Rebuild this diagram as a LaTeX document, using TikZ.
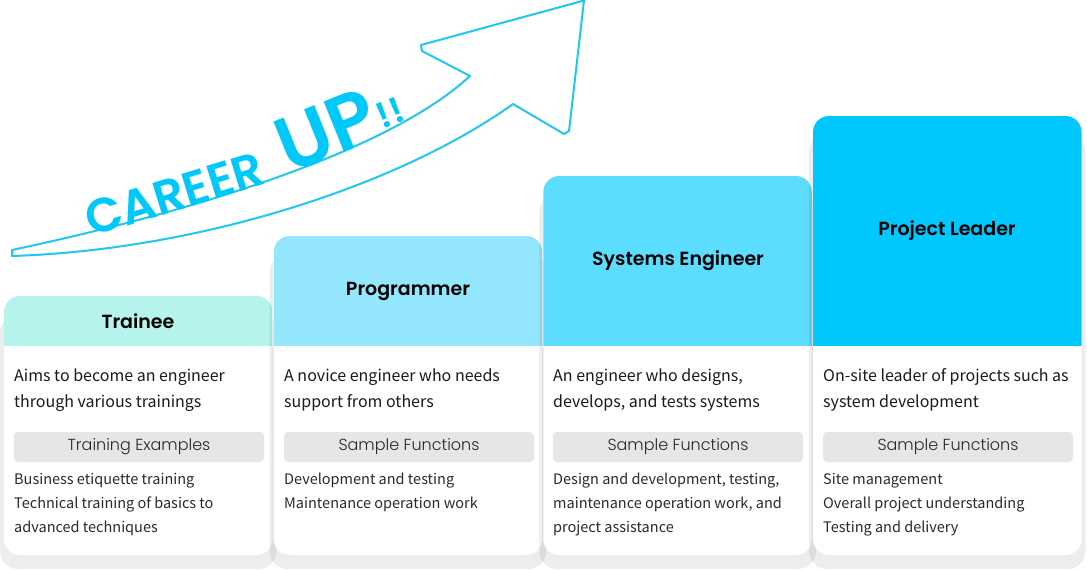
\documentclass[tikz,border=0pt]{standalone}
\usepackage{fontspec}
\setmainfont{Noto Sans CJK JP}
\newfontfamily\popfont{Poppins}
\newfontfamily\popsemi{Poppins}[UprightFont={* SemiBold}]
\newfontfamily\poplight{Poppins}[UprightFont={* Light}]
\definecolor{hdA}{HTML}{B5F3EC}
\definecolor{hdB}{HTML}{94E6FC}
\definecolor{hdC}{HTML}{5CDCFE}
\definecolor{hdD}{HTML}{00C8FC}
\definecolor{arrowc}{HTML}{22C6F2}
\definecolor{careerc}{HTML}{00C8F8}
\definecolor{labelbg}{HTML}{E6E6E6}
\definecolor{txt}{HTML}{1A1A1A}
\definecolor{itemc}{HTML}{2A2A2A}
\newcommand\cardshadow[2]{\fill[black, fill opacity=0.07, rounded corners=18pt] (#1-4,#2+18) rectangle (#1+272.5,569);}
\newcommand\cardshape[3]{%
  \fill[white, rounded corners=16pt] (#1,#2) rectangle (#1+268.5,555);
  \begin{scope}
    \clip[rounded corners=16pt] (#1,#2) rectangle (#1+268.5,555);
    \fill[#3] (#1,#2) rectangle (#1+268.5,346);
  \end{scope}}
\begin{document}
\begin{tikzpicture}[x=1pt,y=-1pt,
  title/.style={font=\popsemi\fontsize{19}{22}\selectfont, text=black, inner sep=0},
  desc/.style={font=\fontsize{16}{20}\selectfont, text=txt, anchor=base west, inner sep=0},
  item/.style={font=\fontsize{14.5}{18}\selectfont, text=itemc, anchor=base west, inner sep=0},
  lab/.style={fill=labelbg, rounded corners=4pt, minimum width=250pt, minimum height=30pt, inner sep=0, font=\poplight\fontsize{16}{18}\selectfont, text=black!85},
  career/.style={text=careerc, inner sep=0, anchor=base west}
]
\useasboundingbox (0,0) rectangle (1087,570);
\fill[white] (0,0) rectangle (1087,570);

% arrow
\draw[arrowc, line width=2pt, fill=white, line join=round]
  (12,250) .. controls (200,210) and (390,150) .. (470,76)
  -- (422,51) -- (421,45) -- (584,0.5) -- (569,131) -- (564,134) -- (513,104)
  .. controls (400,185) and (200,250) .. (12,256) -- cycle;
\node[career, font=\popsemi\fontsize{48}{50}\selectfont, rotate=17] (career) at (91,237) {CAREER};
\node[career, font=\popsemi\fontsize{78}{80}\selectfont, rotate=22] (up) at (289,175) {UP\kern2pt\raisebox{7pt}{\fontsize{36}{38}\selectfont !\kern1.5pt!}};

% cards with their shadows
\cardshadow{4}{296}
\cardshape{4}{296}{hdA}
\cardshadow{273.7}{236}
\cardshape{273.7}{236}{hdB}
\cardshadow{543.3}{176}
\cardshape{543.3}{176}{hdC}
\cardshadow{813}{116}
\cardshape{813}{116}{hdD}

% titles
\node[title] (t1) at (138,321) {Trainee};
\node[title] (t2) at (408,291) {Programmer};
\node[title] (t3) at (678,261) {Systems Engineer};
\node[title] (t4) at (947,231) {Project Leader};

% descriptions
\node[desc] (d1a) at (14,381) {Aims to become an engineer};
\node[desc] (d1b) at (14,407) {through various trainings};
\node[desc] (d2a) at (284,381) {A novice engineer who needs};
\node[desc] (d2b) at (284,407) {support from others};
\node[desc] (d3a) at (553,381) {An engineer who designs,};
\node[desc] (d3b) at (553,407) {develops, and tests systems};
\node[desc] (d4a) at (823,381) {On-site leader of projects such as};
\node[desc] (d4b) at (823,407) {system development};

% labels
\node[lab] (l1) at (139,447) {Training Examples};
\node[lab] (l2) at (409,447) {Sample Functions};
\node[lab] (l3) at (678,447) {Sample Functions};
\node[lab] (l4) at (948,447) {Sample Functions};

% items
\node[item] (i1a) at (14,484) {Business etiquette training};
\node[item] (i1b) at (14,508) {Technical training of basics to};
\node[item] (i1c) at (14,532) {advanced techniques};
\node[item] (i2a) at (284,484) {Development and testing};
\node[item] (i2b) at (284,508) {Maintenance operation work};
\node[item] (i3a) at (553,484) {Design and development, testing,};
\node[item] (i3b) at (553,508) {maintenance operation work, and};
\node[item] (i3c) at (553,532) {project assistance};
\node[item] (i4a) at (823,484) {Site management};
\node[item] (i4b) at (823,508) {Overall project understanding};
\node[item] (i4c) at (823,532) {Testing and delivery};
\end{tikzpicture}
\end{document}
